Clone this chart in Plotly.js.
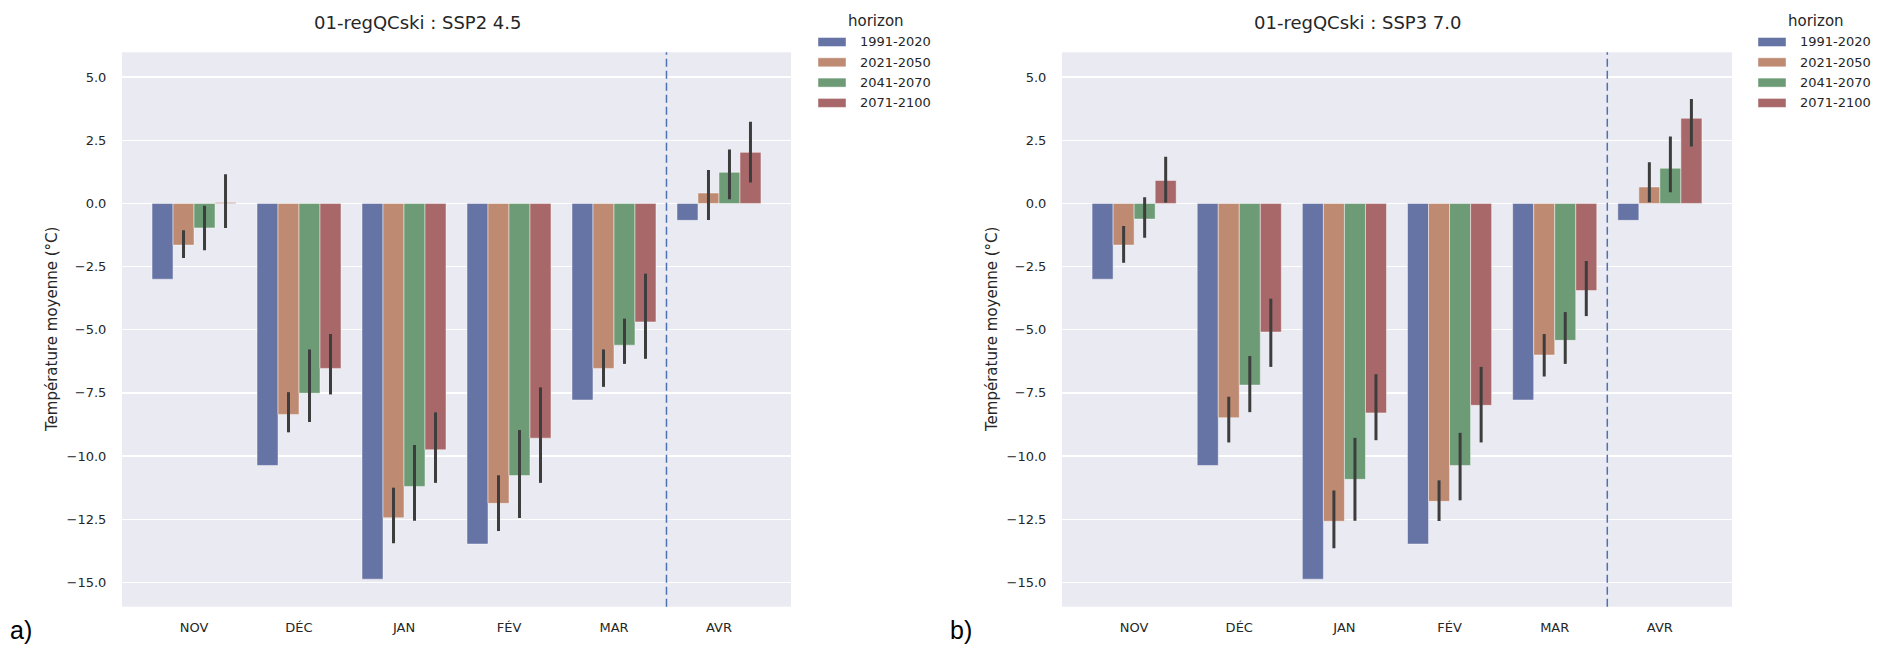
<!DOCTYPE html>
<html>
<head>
<meta charset="utf-8">
<script src="https://cdn.plot.ly/plotly-3.0.1.min.js"></script>
<style>html,body{margin:0;padding:0;background:#fff;}#chart{width:1879px;height:649px;}</style>
</head>
<body>
<div id="chart"></div>
<script>
// ---- data ----
const months = ['NOV', 'DÉC', 'JAN', 'FÉV', 'MAR', 'AVR'];
const horizons = ['1991-2020', '2021-2050', '2041-2070', '2071-2100'];
const colors = ['#6673A5', '#BE8A72', '#6C9B75', '#A86869'];
const panelTitles = ['01-regQCski : SSP2 4.5', '01-regQCski : SSP3 7.0'];
const panelLetters = ['a)', 'b)'];

// SSP2 4.5
const ssp245_1991 = [-3.0, -10.37, -14.87, -13.48, -7.78, -0.67];
const ssp245_2021 = [-1.65, -8.35, -12.44, -11.87, -6.53, 0.41];
const ssp245_2021_lo = [-2.16, -9.06, -13.45, -12.96, -7.26, -0.66];
const ssp245_2021_hi = [-1.06, -7.47, -11.25, -10.76, -5.78, 1.32];
const ssp245_2041 = [-0.97, -7.51, -11.2, -10.77, -5.61, 1.23];
const ssp245_2041_lo = [-1.85, -8.65, -12.56, -12.45, -6.35, 0.16];
const ssp245_2041_hi = [-0.09, -5.78, -9.56, -8.97, -4.56, 2.13];
const ssp245_2071 = [0.04, -6.53, -9.75, -9.29, -4.69, 2.02];
const ssp245_2071_lo = [-0.97, -7.56, -11.06, -11.06, -6.15, 0.83];
const ssp245_2071_hi = [1.15, -5.17, -8.27, -7.28, -2.78, 3.23];

// SSP3 7.0
const ssp370_1991 = [-3.0, -10.37, -14.87, -13.48, -7.78, -0.67];
const ssp370_2021 = [-1.65, -8.48, -12.58, -11.79, -6.0, 0.65];
const ssp370_2021_lo = [-2.35, -9.46, -13.65, -12.57, -6.85, 0.05];
const ssp370_2021_hi = [-0.89, -7.65, -11.36, -10.96, -5.17, 1.63];
const ssp370_2041 = [-0.62, -7.19, -10.92, -10.37, -5.42, 1.39];
const ssp370_2041_lo = [-1.36, -8.26, -12.56, -11.75, -6.35, 0.44];
const ssp370_2041_hi = [0.24, -6.04, -9.28, -9.08, -4.30, 2.65];
const ssp370_2071 = [0.91, -5.09, -8.29, -7.99, -3.45, 3.37];
const ssp370_2071_lo = [0.04, -6.47, -9.37, -9.46, -4.46, 2.25];
const ssp370_2071_hi = [1.85, -3.77, -6.76, -6.47, -2.28, 4.13];

const panels = [
  [
    {v: ssp245_1991},
    {v: ssp245_2021, lo: ssp245_2021_lo, hi: ssp245_2021_hi},
    {v: ssp245_2041, lo: ssp245_2041_lo, hi: ssp245_2041_hi},
    {v: ssp245_2071, lo: ssp245_2071_lo, hi: ssp245_2071_hi}
  ],
  [
    {v: ssp370_1991},
    {v: ssp370_2021, lo: ssp370_2021_lo, hi: ssp370_2021_hi},
    {v: ssp370_2041, lo: ssp370_2041_lo, hi: ssp370_2041_hi},
    {v: ssp370_2071, lo: ssp370_2071_lo, hi: ssp370_2071_hi}
  ]
];

// ---- layout helpers ----
const W = 1879, H = 649;
const px = x => x / W;
const py = y => 1 - y / H;
const FONT = 'DejaVu Sans, sans-serif';
const TXT = '#262626';
const panelOffsets = [0, 940];
const plotLeft = 122, plotRight = 791, plotTop = 52.3, plotBottom = 606.7;

const traces = [];
panels.forEach((series, p) => {
  const xa = p === 0 ? 'x' : 'x2';
  const ya = p === 0 ? 'y' : 'y2';
  series.forEach((s, i) => {
    const t = {
      type: 'bar', x: months, y: s.v, name: horizons[i], xaxis: xa, yaxis: ya,
      marker: {color: colors[i], line: {color: 'rgba(255,255,255,0.45)', width: 1}},
      showlegend: false, hoverinfo: 'x+y'
    };
    if (s.lo) {
      t.error_y = {
        type: 'data', symmetric: false,
        array: s.hi.map((h, k) => h - s.v[k]),
        arrayminus: s.v.map((m, k) => m - s.lo[k]),
        color: '#3d3d3d', thickness: 3, width: 0
      };
    }
    traces.push(t);
  });
});

const xCommon = {
  type: 'category', range: [-0.686, 5.686], showgrid: false, zeroline: false,
  showline: false, ticks: 'outside', ticklen: 9, tickcolor: 'rgba(0,0,0,0)',
  tickfont: {family: FONT, size: 13, color: TXT}, automargin: false, fixedrange: true
};
const yCommon = {
  range: [-15.96, 5.98], tick0: 0, dtick: 2.5, tickformat: '.1f',
  showgrid: true, gridcolor: '#ffffff', gridwidth: 1.3, zeroline: false, showline: false,
  ticks: 'outside', ticklen: 12, tickcolor: 'rgba(0,0,0,0)',
  tickfont: {family: FONT, size: 13, color: TXT}, automargin: false, fixedrange: true,
  domain: [py(plotBottom), py(plotTop)]
};

const layout = {
  width: W, height: H, margin: {l: 0, r: 0, t: 0, b: 0},
  paper_bgcolor: '#ffffff', plot_bgcolor: '#EAEAF2',
  barmode: 'group', bargap: 0.2, bargroupgap: 0,
  showlegend: false,
  xaxis: Object.assign({}, xCommon, {domain: [px(plotLeft), px(plotRight)], anchor: 'y'}),
  xaxis2: Object.assign({}, xCommon, {domain: [px(plotLeft + 940), px(plotRight + 941)], anchor: 'y2'}),
  yaxis: Object.assign({}, yCommon, {anchor: 'x'}),
  yaxis2: Object.assign({}, yCommon, {anchor: 'x2'}),
  shapes: [], annotations: []
};

panelOffsets.forEach((off, p) => {
  const xr = p === 0 ? 'x' : 'x2';
  const yr = p === 0 ? 'y domain' : 'y2 domain';
  // dashed separator
  layout.shapes.push({
    type: 'line', xref: xr, yref: yr, x0: 4.5, x1: 4.5, y0: 0, y1: 1,
    line: {color: '#4C72B0', width: 1.5, dash: '8px,4px'}, layer: 'above'
  });
  // panel title
  layout.annotations.push({
    xref: 'paper', yref: 'paper', x: px(417 + off), y: py(22), text: panelTitles[p],
    showarrow: false, xanchor: 'center', yanchor: 'middle',
    font: {family: FONT, size: 18, color: TXT}
  });
  // y axis title
  layout.annotations.push({
    xref: 'paper', yref: 'paper', x: px(52 + off), y: py(330), text: 'Température moyenne (°C)',
    showarrow: false, xanchor: 'center', yanchor: 'middle', textangle: -90,
    font: {family: FONT, size: 15, color: TXT}
  });
  // panel letter
  layout.annotations.push({
    xref: 'paper', yref: 'paper', x: px(21 + off), y: py(630), text: panelLetters[p],
    showarrow: false, xanchor: 'center', yanchor: 'middle',
    font: {family: 'Liberation Sans, Arial, sans-serif', size: 25, color: '#000'}
  });
  // legend
  layout.annotations.push({
    xref: 'paper', yref: 'paper', x: px(876 + off), y: py(21), text: 'horizon',
    showarrow: false, xanchor: 'center', yanchor: 'middle',
    font: {family: FONT, size: 15, color: TXT}
  });
  horizons.forEach((h, i) => {
    const cy = 42 + i * 20.3;
    layout.shapes.push({
      type: 'rect', xref: 'paper', yref: 'paper',
      x0: px(818 + off), x1: px(846 + off), y0: py(cy - 4.5), y1: py(cy + 4.5),
      fillcolor: colors[i], line: {color: 'rgba(255,255,255,0.45)', width: 1}
    });
    layout.annotations.push({
      xref: 'paper', yref: 'paper', x: px(858 + off), y: py(cy), text: h,
      showarrow: false, xanchor: 'left', yanchor: 'middle',
      font: {family: FONT, size: 13, color: TXT}
    });
  });
});

Plotly.newPlot('chart', traces, layout, {displayModeBar: false, staticPlot: true});
</script>
</body>
</html>
